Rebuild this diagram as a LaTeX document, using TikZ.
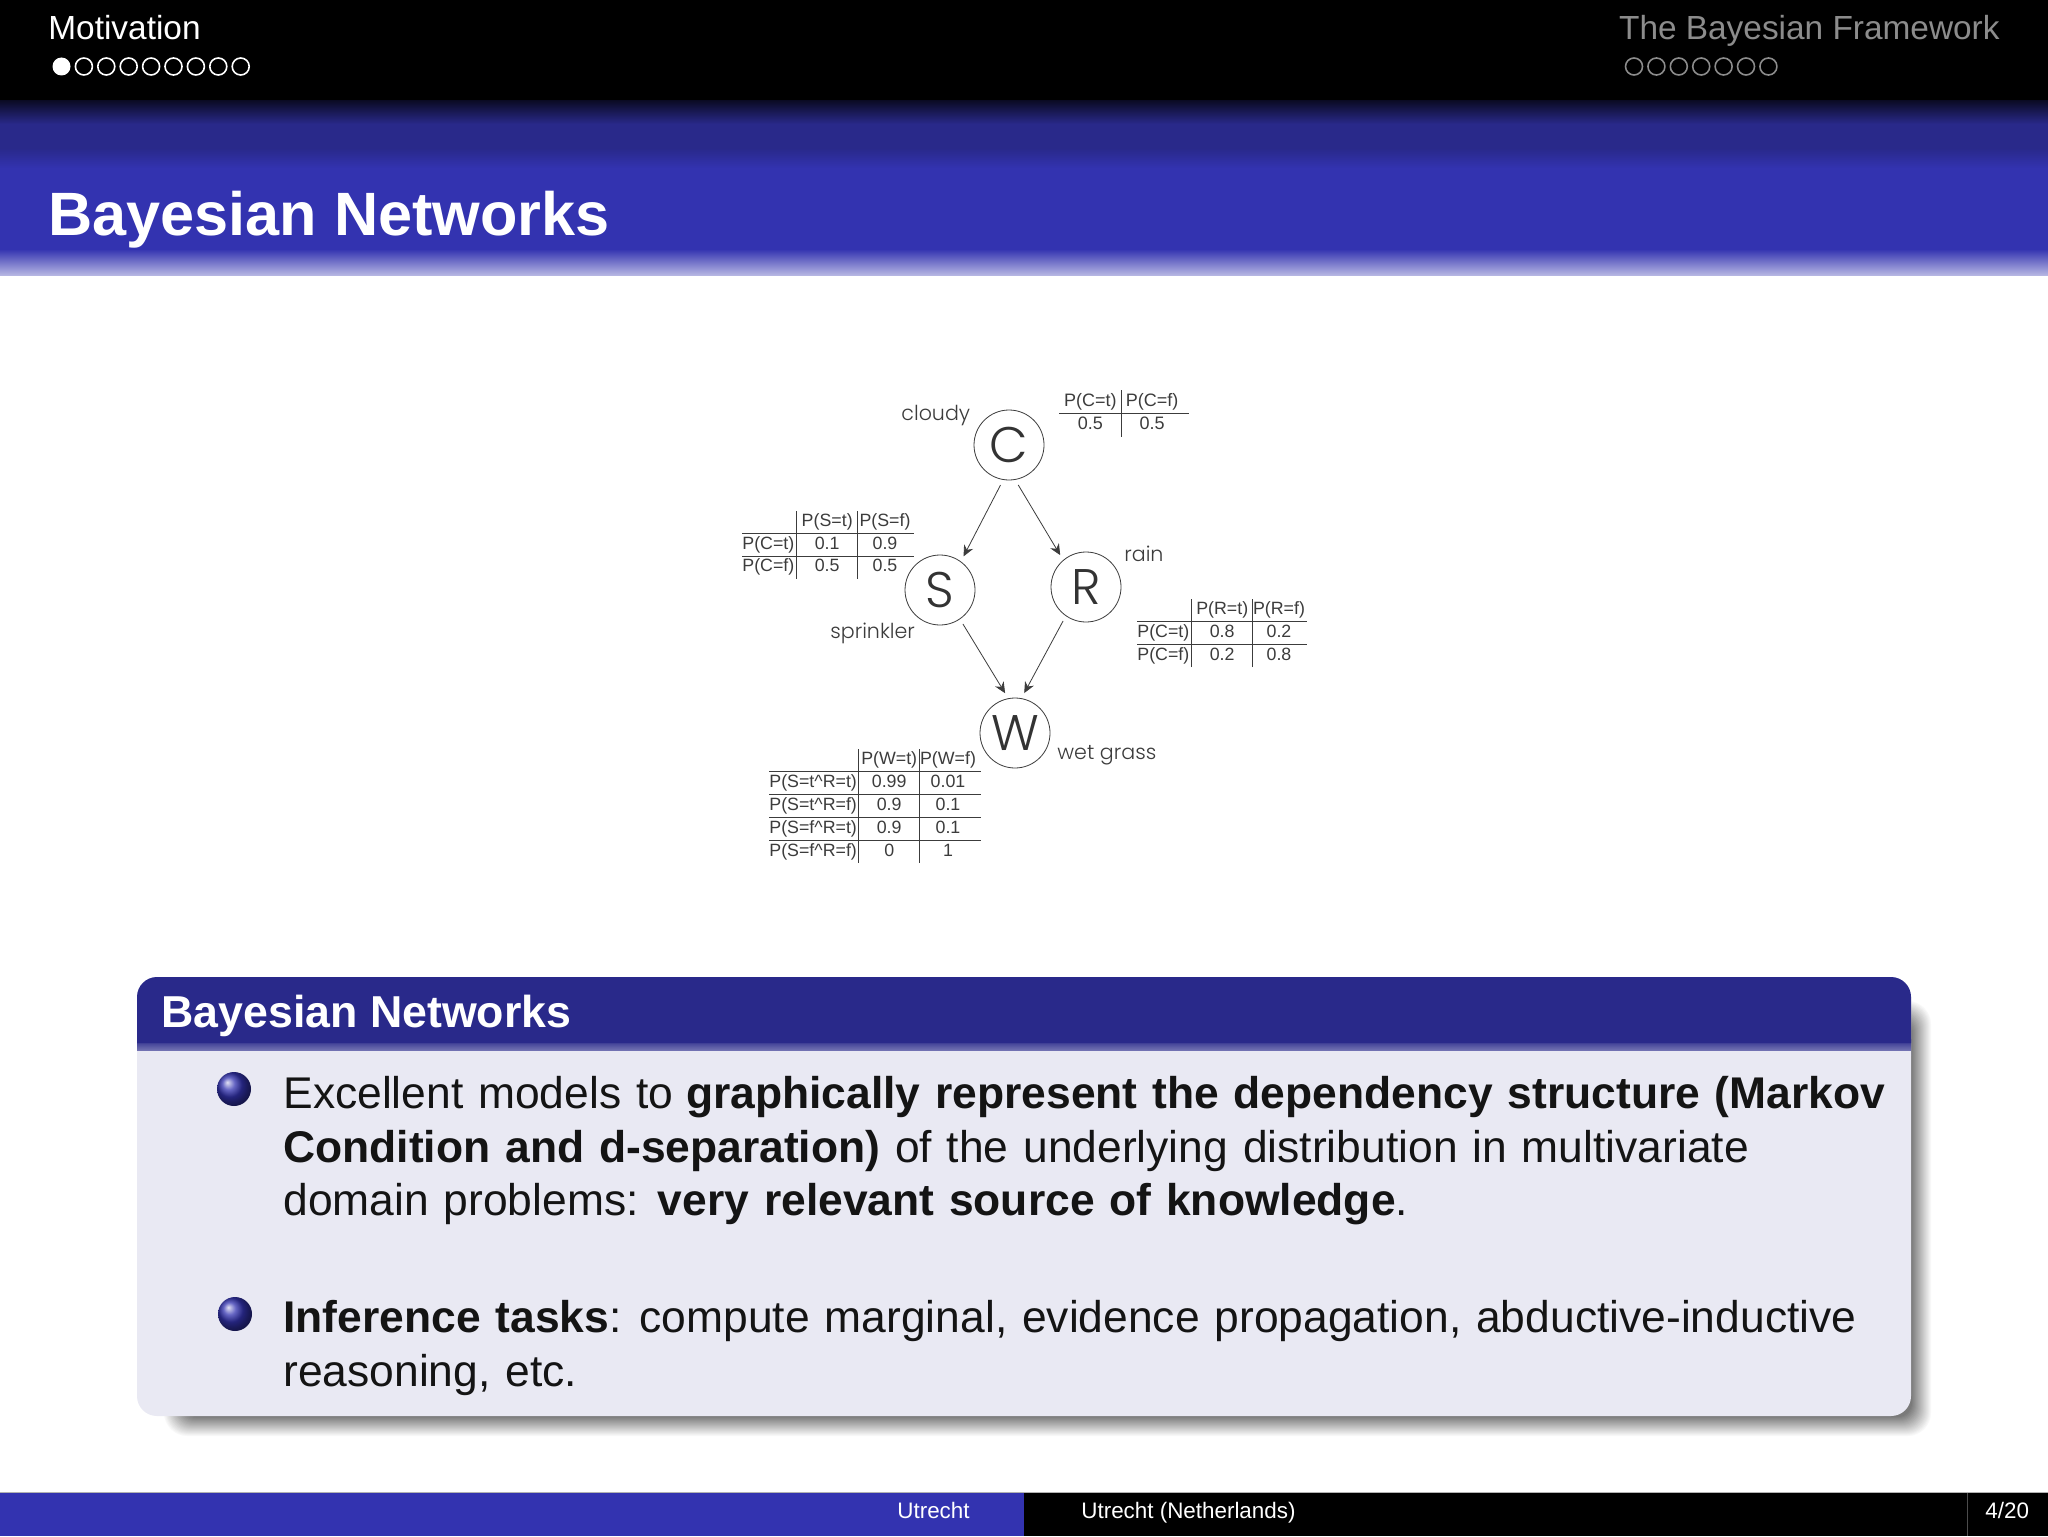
\documentclass[tikz,border=0pt]{standalone}
\usepackage{fontspec}
\usepackage{array}
\setmainfont{Liberation Sans}
\newfontfamily\graphfont[UprightFont=* Light]{Poppins}
\usetikzlibrary{arrows.meta}
\setlength{\tabcolsep}{0pt}
\definecolor{barblue}{HTML}{3333B0}
\definecolor{darkblue}{HTML}{29298A}
\definecolor{blockbody}{HTML}{E9E9F3}
\definecolor{graphgray}{HTML}{3C3C3C}
\tikzset{
    headtext/.style={anchor=base west,inner sep=0,text=white,font=\fontsize{16.7}{20}\selectfont},
    foottext/.style={anchor=base west,inner sep=0,text=white,font=\fontsize{11.2}{13}\selectfont},
    bodytext/.style={anchor=north west,inner sep=0,text width=860pt,align=left,text=black!92,font=\fontsize{22.2}{26.75}\selectfont},
    varnode/.style={draw=graphgray,circle,minimum size=35pt,inner sep=0,outer sep=3pt,text=black!80,font=\graphfont\fontsize{25}{25}\selectfont},
    varlabel/.style={anchor=base west,inner sep=0,text=graphgray,font=\graphfont\fontsize{10.3}{12}\selectfont},
    cpt/.style={anchor=north west,inner sep=0,text=graphgray,font=\fontsize{8.9}{11}\selectfont},
    link/.style={-{Stealth[length=5.5pt,width=5pt]},draw=graphgray,line width=0.4pt},
    navball/.style={ball color=barblue},
    navdot/.style={line width=0.8pt}
}
\begin{document}
\begin{tikzpicture}[x=0.5pt,y=-0.5pt]
    \useasboundingbox (0,0) rectangle (2048,1536);
    \fill[white] (0,0) rectangle (2048,1536);

    \fill[barblue] (0,163) rectangle (2048,259);
    \shade[top color=barblue,bottom color=barblue!12] (0,249) rectangle (2048,285);
    \fill[white] (0,276) rectangle (2048,292);
    \shade[top color=darkblue,bottom color=barblue] (0,148) rectangle (2048,168);
    \shade[top color=black,bottom color=darkblue] (0,92) rectangle (2048,124);
    \fill[darkblue] (0,124) rectangle (2048,148);
    \fill[black] (0,0) rectangle (2048,100);

    \node[headtext] (section1) at (48,40) {Motivation};
    \node[headtext,anchor=base east,text=black!45] (section2) at (2000,40) {The Bayesian Framework};
    \node[headtext,font=\bfseries\fontsize{30.6}{36}\selectfont] (title) at (48,235) {Bayesian Networks};

    \fill[white] (61.5,66.5) circle (9);
    \foreach \i in {1,...,8}
        \draw[white,navdot] (61.5+22.4*\i,66.5) circle (8.5);
    \foreach \i in {0,...,6}
        \draw[black!45,navdot] (1634+22.4*\i,66.5) circle (8.5);

    \node[varnode] (C) at (1009,445) {C};
    \node[varnode] (S) at (940,590) {S};
    \node[varnode] (R) at (1086,587) {R};
    \node[varnode] (W) at (1015,733) {W};

    \draw[link] (C.258) -- (S.55);
    \draw[link] (C.283) -- (R.129);
    \draw[link] (S.304) -- (W.104);
    \draw[link] (R.236) -- (W.77);

    \node[varlabel] (cloudy) at (901,420) {cloudy};
    \node[varlabel] (sprinkler) at (830,638) {sprinkler};
    \node[varlabel] (rain) at (1124,561) {rain};
    \node[varlabel] (wetgrass) at (1057,759) {wet grass};

    \node[cpt,font=\fontsize{9}{11.5}\selectfont] (cptC) at (1059,389.5) {\begin{tabular}{@{}wc{31pt}|wc{30pt}@{\hspace{3.5pt}}}
        P(C=t) & P(C=f) \\ \hline
        0.5 & 0.5
    \end{tabular}};
    \node[cpt] (cptS) at (742,510.5) {\begin{tabular}{@{}wl{27pt}|wc{30pt}|wc{27pt}@{\hspace{1pt}}}
        & P(S=t) & P(S=f) \\ \hline
        P(C=t) & 0.1 & 0.9 \\ \hline
        P(C=f) & 0.5 & 0.5
    \end{tabular}};
    \node[cpt] (cptR) at (1137,599) {\begin{tabular}{@{}wl{27pt}|wc{30pt}|wc{26pt}@{\hspace{1pt}}}
        & P(R=t) & P(R=f) \\ \hline
        P(C=t) & 0.8 & 0.2 \\ \hline
        P(C=f) & 0.2 & 0.8
    \end{tabular}};
    \node[cpt] (cptW) at (769,749) {\begin{tabular}{@{}wl{44.5pt}|wc{30pt}|wc{28pt}@{\hspace{2.5pt}}}
        & P(W=t) & P(W=f) \\ \hline
        P(S=t\textasciicircum R=t) & 0.99 & 0.01 \\ \hline
        P(S=t\textasciicircum R=f) & 0.9 & 0.1 \\ \hline
        P(S=f\textasciicircum R=t) & 0.9 & 0.1 \\ \hline
        P(S=f\textasciicircum R=f) & 0 & 1
    \end{tabular}};

    \foreach \d in {0,...,20} {
        \pgfmathsetmacro{\level}{2.6*\d}
        \fill[black!\level,rounded corners=12pt-0.25pt*\d] (163+\d,1000+\d) rectangle (1932-\d,1437-\d);
    }
    \fill[blockbody,rounded corners=10pt] (137,977) rectangle (1911,1416);
    \shade[top color=darkblue,bottom color=darkblue!45!blockbody] (137,1039) rectangle (1911,1055);
    \fill[blockbody] (137,1051) rectangle (1911,1056);
    \fill[darkblue] (137,1043) [rounded corners=10pt] -- (137,977) -- (1911,977) [sharp corners] -- (1911,1043) -- cycle;

    \node[headtext,font=\bfseries\fontsize{22.35}{26}\selectfont] (blocktitle) at (161,1027) {Bayesian Networks};

    \shade[navball] (234,1089) circle (17);
    \shade[navball] (235,1314) circle (17);

    \node[bodytext] (item1) at (283,1076) {Excellent models to\hspace{-1pt} \textbf{graphically represent the dependency structure (Markov}\\
        \textbf{Condition and d-separation)} of the underlying distribution in multivariate\\
        domain problems:\hspace{-1.5pt} \textbf{very relevant source of knowledge}.};
    \node[bodytext] (item2) at (283,1300) {\textbf{Inference tasks}:\hspace{-2pt} compute marginal, evidence propagation, abductive-inductive\\
        reasoning, etc.};

    \fill[barblue] (0,1492) rectangle (1024,1536);
    \fill[black] (1024,1492) rectangle (2048,1536);
    \draw[black!30,line width=0.5pt] (0,1492) -- (2048,1492);
    \draw[black!70,line width=0.3pt] (1967,1493) -- (1967,1536);
    \node[foottext] (foot1) at (897,1518) {Utrecht};
    \node[foottext] (foot2) at (1081,1518) {Utrecht (Netherlands)};
    \node[foottext] (foot3) at (1985,1518) {4/20};
\end{tikzpicture}
\end{document}
